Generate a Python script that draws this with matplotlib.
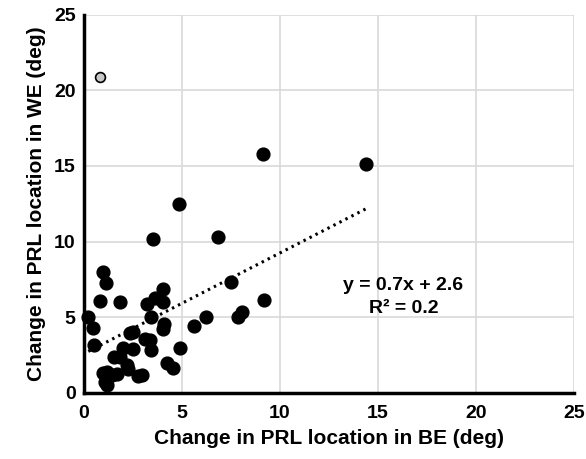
import numpy as np
import matplotlib
matplotlib.use("Agg")
import matplotlib.pyplot as plt

plt.rcParams['font.family'] = ['Liberation Sans', 'DejaVu Sans']
plt.rcParams['font.weight'] = 'bold'

# Change in PRL location (deg): BE (x) vs WE (y)
be = [9.12, 14.4, 4.83, 3.54, 6.82, 0.95, 1.12, 0.82, 1.84, 4.01, 3.62, 3.2, 4.05,
      3.41, 0.22, 0.48, 4.1, 4.01, 5.63, 6.22, 7.5, 7.84, 8.04, 9.18, 2.52, 2.35,
      0.53, 3.11, 3.37, 3.42, 2.0, 2.52, 4.9, 1.55, 1.84, 2.18, 2.26, 4.22, 4.56,
      2.77, 2.94, 0.99, 1.16, 1.41, 1.66, 1.07, 1.16]
we = [15.8, 15.1, 12.5, 10.2, 10.3, 8.0, 7.25, 6.1, 6.0, 6.9, 6.25, 5.85, 6.0,
      5.05, 5.05, 4.28, 4.56, 4.2, 4.43, 5.05, 7.3, 5.05, 5.38, 6.15, 4.05, 3.94,
      3.17, 3.55, 3.5, 2.84, 3.0, 2.9, 2.95, 2.4, 2.4, 1.85, 1.59, 2.0, 1.63,
      1.14, 1.19, 1.34, 1.41, 1.19, 1.26, 0.75, 0.53]
outlier_be = [0.82]
outlier_we = [20.9]
trend_slope = 0.665
trend_intercept = 2.6
equation_lines = ["y = 0.7x + 2.6", "R² = 0.2"]
ticks = [0, 5, 10, 15, 20, 25]

fig = plt.figure(figsize=(5.86, 4.59), dpi=100)
ax = fig.add_axes([0.1433, 0.1438, 0.8362, 0.8246])

ax.set_xlim(0, 25)
ax.set_ylim(0, 25)
ax.set_xticks(ticks)
ax.set_yticks(ticks)
ax.grid(True, color='#d9d9d9', linewidth=1.2)
ax.set_axisbelow(True)

for s in ['top', 'right']:
    ax.spines[s].set_visible(False)
for s in ['left', 'bottom']:
    ax.spines[s].set_linewidth(2.5)
    ax.spines[s].set_color('black')

ax.scatter(be, we, s=85, color='black', zorder=3, clip_on=False)
ax.scatter(outlier_be, outlier_we, s=50, facecolor='#c8c8c8', edgecolor='black',
           linewidth=1.2, zorder=3)

xs = np.array([min(be), max(be)])
ax.plot(xs, trend_slope * xs + trend_intercept, color='black', linewidth=2.2,
        linestyle=(0, (0.8, 1.4)), zorder=2)

ax.text(16.3, 7.1, equation_lines[0], ha='center', va='center', fontsize=14,
        fontweight='bold')
ax.text(16.3, 5.6, equation_lines[1], ha='center', va='center', fontsize=14,
        fontweight='bold')

ax.tick_params(axis='both', length=0, labelsize=14)
ax.tick_params(axis='x', pad=9)
ax.tick_params(axis='y', pad=6)
for lbl in ax.get_xticklabels() + ax.get_yticklabels():
    lbl.set_fontweight('bold')

ax.set_xlabel('Change in PRL location in BE (deg)', fontsize=15, fontweight='bold',
              labelpad=5)
ax.set_ylabel('Change in PRL location in WE (deg)', fontsize=15, fontweight='bold',
              labelpad=6)

fig.savefig('out.png', dpi=100)
